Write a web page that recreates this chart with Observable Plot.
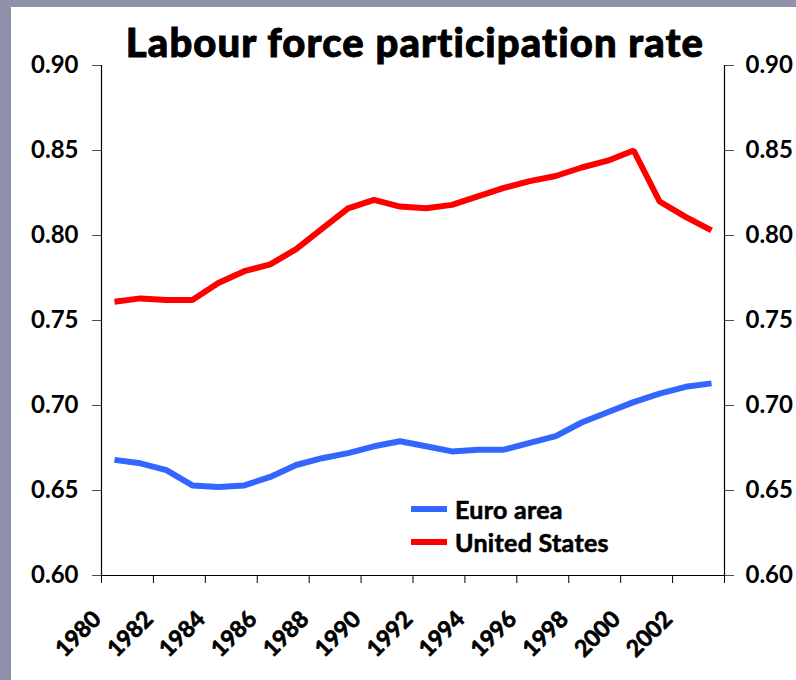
<!DOCTYPE html>
<html>
<head>
<meta charset="utf-8">
<script src="https://cdn.jsdelivr.net/npm/d3@7"></script>
<script src="https://cdn.jsdelivr.net/npm/@observablehq/plot@0.6"></script>
<style>
  html, body { margin: 0; padding: 0; }
  body { width: 796px; height: 680px; background: #8f90aa; position: relative; overflow: hidden;
         font-family: Lato, "DejaVu Sans", sans-serif; font-weight: bold; }
  #panel { position: absolute; left: 11px; top: 7px; right: 0; bottom: 0; background: #fff; }
  #chart { position: absolute; left: 0; top: 0; }
  #title { position: absolute; left: 0; width: 830px; top: 22px; text-align: center;
           font-size: 40px; font-weight: 900; color: #000; line-height: 1; white-space: nowrap;
           letter-spacing: 1.1px; -webkit-text-stroke: 0.9px #000; }
  #legend { position: absolute; left: 411px; top: 492px; font-size: 25px; color: #000;
            -webkit-text-stroke: 0.6px #000; letter-spacing: 0.3px; }
  .item { display: flex; align-items: center; height: 33px; }
  .sw { width: 36px; height: 6px; margin-right: 8px; }
  #chart svg text { paint-order: stroke; }
</style>
</head>
<body>
<div id="panel"></div>
<div id="chart"></div>
<div id="title">Labour force participation rate</div>
<div id="legend"></div>
<script>
const years = d3.range(1980, 2004);
const euroArea = [0.668, 0.666, 0.662, 0.653, 0.652, 0.653, 0.658, 0.665, 0.669, 0.672,
                  0.676, 0.679, 0.676, 0.673, 0.674, 0.674, 0.678, 0.682, 0.690, 0.696,
                  0.702, 0.707, 0.711, 0.713];
const unitedStates = [0.761, 0.763, 0.762, 0.762, 0.772, 0.779, 0.783, 0.792, 0.804, 0.816,
                      0.821, 0.817, 0.816, 0.818, 0.823, 0.828, 0.832, 0.835, 0.840, 0.844,
                      0.850, 0.820, 0.811, 0.803];
const seriesNames = ["Euro area", "United States"];
const seriesColors = ["#3366ff", "#ff0000"];
const yTicks = [0.60, 0.65, 0.70, 0.75, 0.80, 0.85, 0.90];
const xTicks = d3.range(1980, 2005, 2);
const xLabels = d3.range(1980, 2004, 2);

const rows = [];
years.forEach((yr, i) => {
  rows.push({year: yr + 0.5, value: euroArea[i], series: seriesNames[0]});
  rows.push({year: yr + 0.5, value: unitedStates[i], series: seriesNames[1]});
});

const font = "Lato, 'DejaVu Sans', sans-serif";
const chart = Plot.plot({
  width: 796,
  height: 680,
  marginLeft: 101,
  marginRight: 72,
  marginTop: 65,
  marginBottom: 105,
  style: {background: "transparent", fontFamily: font, fontWeight: "bold", fontSize: "24px", color: "#000"},
  x: {domain: [1980, 2004], axis: null},
  y: {domain: [0.60, 0.90], axis: null},
  color: {domain: seriesNames, range: seriesColors},
  marks: [
    Plot.ruleX([1980, 2004], {y1: 0.60, y2: 0.90, stroke: "#000", strokeWidth: 1.2}),
    Plot.ruleY([0.60], {x1: 1980, x2: 2004, stroke: "#000", strokeWidth: 1.2}),
    Plot.axisY({anchor: "left", ticks: yTicks, tickSize: 9, tickPadding: 14, tickFormat: d3.format(".2f"),
                label: null, fontSize: 24, fontWeight: "bold", stroke: "#000", strokeWidth: 0.7}),
    Plot.axisY({anchor: "right", ticks: yTicks, tickSize: 9, tickPadding: 12, tickFormat: d3.format(".2f"),
                label: null, fontSize: 24, fontWeight: "bold", stroke: "#000", strokeWidth: 0.7}),
    Plot.axisX({ticks: xTicks, tickSize: 8, tickFormat: () => "", label: null}),
    Plot.text(xLabels, {x: d => d, text: d => String(d), frameAnchor: "bottom", rotate: -45,
                        textAnchor: "end", dx: 1, dy: 45, fontSize: 23, fontWeight: "bold",
                        fill: "#000", stroke: "#000", strokeWidth: 0.7}),
    Plot.line(rows, {x: "year", y: "value", z: "series", stroke: "series", strokeWidth: 6,
                     strokeLinejoin: "miter", strokeLinecap: "butt"})
  ]
});
document.getElementById("chart").appendChild(chart);

const legend = document.getElementById("legend");
seriesNames.forEach((name, i) => {
  const item = document.createElement("div");
  item.className = "item";
  const sw = document.createElement("div");
  sw.className = "sw";
  sw.style.background = seriesColors[i];
  const label = document.createElement("span");
  label.textContent = name;
  item.appendChild(sw);
  item.appendChild(label);
  legend.appendChild(item);
});
</script>
</body>
</html>
